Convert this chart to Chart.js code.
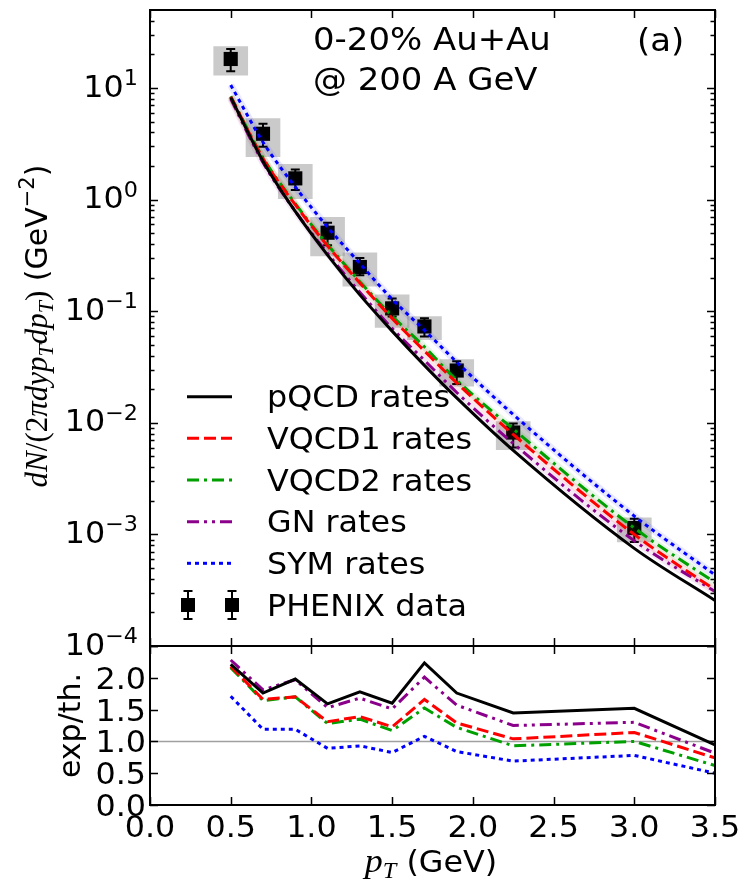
<!DOCTYPE html>
<html>
<head>
<meta charset="utf-8">
<script src="https://cdn.jsdelivr.net/npm/chart.js@4.4.0/dist/chart.umd.min.js"></script>
<style>
  html, body { margin: 0; padding: 0; background: #fff; }
  #wrap { position: relative; width: 747px; height: 882px; }
  canvas { position: absolute; left: 0; top: 0; }
</style>
</head>
<body>
<div id="wrap">
  <canvas id="spectrum" width="747" height="882"></canvas>
  <canvas id="ratio" width="747" height="882"></canvas>
</div>
<script>
// PHENIX points
const ptData = [0.5, 0.7, 0.9, 1.1, 1.3, 1.5, 1.7, 1.9, 2.25, 3.0];
const phenix = [18.2, 3.89, 1.55, 0.505, 0.249, 0.106, 0.073, 0.0294, 0.00818, 0.00114];
const statLow = [14.1, 2.98, 1.22, 0.389, 0.21, 0.0896, 0.0594, 0.0223, 0.0060, 0.000857];
const statHigh = [22.4, 4.78, 1.86, 0.62, 0.30, 0.130, 0.0865, 0.0356, 0.00984, 0.00138];
const sysLow = [13.0, 2.43, 1.02, 0.313, 0.168, 0.0714, 0.0555, 0.0213, 0.00574, 0.000855];
const sysHigh = [23.5, 5.33, 2.07, 0.695, 0.333, 0.140, 0.0895, 0.0368, 0.01026, 0.00141];

// theory rates
const ptTheory = [0.5, 0.7, 0.9, 1.1, 1.3, 1.5, 1.7, 1.9, 2.25, 3.0, 3.5];
const pqcdRate = [8.24, 2.21, 0.783, 0.318, 0.140, 0.0663, 0.0327, 0.0167, 0.00566, 0.00075, 0.000256];
const vqcd1Rate = [8.35, 2.34, 0.90, 0.385, 0.179, 0.0862, 0.044, 0.0228, 0.00787, 0.00100, 0.000318];
const vqcd2Rate = [8.43, 2.37, 0.92, 0.395, 0.184, 0.0906, 0.0479, 0.0241, 0.0088, 0.00114, 0.00037];
const gnRate = [7.98, 2.15, 0.787, 0.330, 0.148, 0.0702, 0.0363, 0.0187, 0.00654, 0.000877, 0.000308];
const symRate = [10.64, 3.27, 1.30, 0.567, 0.268, 0.128, 0.0676, 0.035, 0.01186, 0.00146, 0.000434];

// exp/th. ratios
const ratioPqcd = [2.21, 1.76, 1.98, 1.59, 1.78, 1.60, 2.235, 1.76, 1.446, 1.52, 0.946];
const ratioVqcd1 = [2.18, 1.66, 1.70, 1.31, 1.39, 1.23, 1.66, 1.29, 1.04, 1.14, 0.74];
const ratioVqcd2 = [2.16, 1.64, 1.70, 1.28, 1.35, 1.17, 1.525, 1.22, 0.93, 1.00, 0.62];
const ratioGn = [2.28, 1.81, 1.97, 1.53, 1.68, 1.51, 2.01, 1.57, 1.25, 1.30, 0.815];
const ratioSym = [1.71, 1.19, 1.19, 0.89, 0.93, 0.825, 1.08, 0.84, 0.69, 0.78, 0.50];

// ticks
const xTicks = [0, 0.5, 1.0, 1.5, 2.0, 2.5, 3.0, 3.5];
const xTickLabels = ['0.0', '0.5', '1.0', '1.5', '2.0', '2.5', '3.0', '3.5'];
const logTicks = [1e-4, 1e-3, 1e-2, 1e-1, 1, 10];
const logTickExp = ['\u22124', '\u22123', '\u22122', '\u22121', '0', '1'];
const ratioTicks = [0, 0.5, 1.0, 1.5, 2.0, 2.5];
const ratioTickLabels = ['0.0', '0.5', '1.0', '1.5', '2.0', ''];

const SANS = 'DejaVu Sans';
const MATH = 'Liberation Serif';
const SX = 1.06;

const styles = {
  pqcd: { label: 'pQCD rates', color: '#000000', dash: [] },
  vqcd1: { label: 'VQCD1 rates', color: '#ff0000', dash: [12, 5], halo: 'rgba(255,0,0,0.09)' },
  vqcd2: { label: 'VQCD2 rates', color: '#00a000', dash: [12, 5, 3, 5], halo: 'rgba(0,160,0,0.09)' },
  gn: { label: 'GN rates', color: '#8b008b', dash: [12, 5, 3, 5, 3, 5], halo: 'rgba(139,0,139,0.09)' },
  sym: { label: 'SYM rates', color: '#0000ff', dash: [4, 4], halo: 'rgba(0,0,255,0.09)' }
};

function pts(xs, ys) { return xs.map((x, i) => ({ x: x, y: ys[i] })); }

function lineSet(key, values, smooth) {
  const s = styles[key];
  return {
    type: 'line', label: s.label, data: pts(ptTheory, values),
    borderColor: s.color, borderWidth: 3, borderDash: s.dash,
    pointRadius: 0, fill: false, order: 0,
    cubicInterpolationMode: smooth ? 'monotone' : 'default', legendLine: true
  };
}

function haloSet(key, values) {
  const s = styles[key];
  return {
    type: 'line', label: s.label + ' band', data: pts(ptTheory, values),
    borderColor: s.halo, borderWidth: 7, pointRadius: 0, fill: false, order: 1,
    cubicInterpolationMode: 'monotone'
  };
}

function drawText(ctx, parts, x, y, align, rotated, sx) {
  ctx.save();
  ctx.translate(x, y);
  if (rotated) ctx.rotate(-Math.PI / 2);
  ctx.scale(sx || 1, 1);
  ctx.textAlign = 'left';
  ctx.textBaseline = 'alphabetic';
  ctx.fillStyle = '#000';
  let w = 0;
  parts.forEach(p => { ctx.font = p.f; w += ctx.measureText(p.t).width; });
  let cx = align === 'right' ? -w : (align === 'center' ? -w / 2 : 0);
  parts.forEach(p => {
    ctx.font = p.f;
    ctx.fillText(p.t, cx, p.dy || 0);
    cx += ctx.measureText(p.t).width;
  });
  ctx.restore();
}

function frameAndTicks(chart, yMajor, yMinor) {
  const ctx = chart.ctx;
  const a = chart.chartArea;
  const sx = chart.scales.x, sy = chart.scales.y;
  ctx.save();
  ctx.strokeStyle = '#000';
  ctx.lineWidth = 1.5;
  ctx.setLineDash([]);
  ctx.beginPath();
  xTicks.forEach(v => {
    const px = Math.round(sx.getPixelForValue(v)) + 0.5;
    ctx.moveTo(px, a.bottom); ctx.lineTo(px, a.bottom - 8);
    ctx.moveTo(px, a.top); ctx.lineTo(px, a.top + 8);
  });
  yMajor.forEach(v => {
    const py = Math.round(sy.getPixelForValue(v)) + 0.5;
    ctx.moveTo(a.left, py); ctx.lineTo(a.left + 8, py);
    ctx.moveTo(a.right, py); ctx.lineTo(a.right - 8, py);
  });
  yMinor.forEach(v => {
    const py = Math.round(sy.getPixelForValue(v)) + 0.5;
    ctx.moveTo(a.left, py); ctx.lineTo(a.left + 4.5, py);
    ctx.moveTo(a.right, py); ctx.lineTo(a.right - 4.5, py);
  });
  ctx.stroke();
  ctx.lineWidth = 2;
  ctx.strokeRect(a.left, a.top, a.right - a.left, a.bottom - a.top);
  ctx.restore();
}

// error bars of the PHENIX points, drawn just before the markers
const errorBars = {
  id: 'errorBars',
  beforeDatasetDraw(chart, args) {
    if (chart.data.datasets[args.index].label !== 'PHENIX data') return;
    const ctx = chart.ctx, a = chart.chartArea;
    const sx = chart.scales.x, sy = chart.scales.y;
    ctx.save();
    ctx.beginPath();
    ctx.rect(a.left, a.top, a.right - a.left, a.bottom - a.top);
    ctx.clip();
    ctx.strokeStyle = '#000';
    ctx.lineWidth = 2;
    ctx.beginPath();
    ptData.forEach((x, i) => {
      const px = sx.getPixelForValue(x);
      const lo = sy.getPixelForValue(statLow[i]);
      const hi = sy.getPixelForValue(statHigh[i]);
      ctx.moveTo(px, lo); ctx.lineTo(px, hi);
      ctx.moveTo(px - 4.5, lo); ctx.lineTo(px + 4.5, lo);
      ctx.moveTo(px - 4.5, hi); ctx.lineTo(px + 4.5, hi);
    });
    ctx.stroke();
    ctx.restore();
  }
};

const spectrumAxes = {
  id: 'spectrumAxes',
  afterDraw(chart) {
    const ctx = chart.ctx;
    const sy = chart.scales.y;
    const minor = [];
    for (let d = -4; d <= 1; d++) {
      for (let m = 2; m <= 9; m++) {
        const v = m * Math.pow(10, d);
        if (v < 50) minor.push(v);
      }
    }
    frameAndTicks(chart, logTicks, minor);

    // y tick labels 10^n
    logTicks.forEach((v, i) => {
      const py = sy.getPixelForValue(v);
      drawText(ctx, [
        { t: '10', f: '30px "' + SANS + '"', dy: 8.5 },
        { t: logTickExp[i], f: '21px "' + SANS + '"', dy: -3 }
      ], 138, py, 'right', false, SX);
    });

    // y title
    const mi = 'italic 31px "' + MATH + '"', mr = '31px "' + MATH + '"', ms = 'italic 22px "' + MATH + '"';
    drawText(ctx, [
      { t: 'dN', f: mi }, { t: '/(', f: mr }, { t: '2', f: mr }, { t: '\u03c0dyp', f: mi },
      { t: 'T', f: ms, dy: 6 }, { t: 'dp', f: mi }, { t: 'T', f: ms, dy: 6 }, { t: ')', f: mr },
      { t: ' (GeV', f: '30px "' + SANS + '"' }, { t: '\u22122', f: '21px "' + SANS + '"', dy: -13 },
      { t: ')', f: '30px "' + SANS + '"' }
    ], 47, 326, 'center', true, 1);

    // annotation
    const big = '32px "' + SANS + '"';
    drawText(ctx, [{ t: '0-20% Au+Au', f: big }], 313, 50, 'left', false, SX);
    drawText(ctx, [{ t: '@ 200 A GeV', f: big }], 313, 90, 'left', false, SX);
    drawText(ctx, [{ t: '(a)', f: big }], 637, 51, 'left', false, SX);

    // legend
    const rowY = [396.7, 438.3, 480, 521.7, 563.3, 605];
    const leg = chart.data.datasets.filter(d => d.legendLine);
    ctx.save();
    leg.forEach((d, i) => {
      ctx.strokeStyle = d.borderColor;
      ctx.lineWidth = 3;
      ctx.setLineDash(d.borderDash);
      ctx.beginPath();
      ctx.moveTo(187, rowY[i]); ctx.lineTo(232, rowY[i]);
      ctx.stroke();
      drawText(ctx, [{ t: d.label, f: '30px "' + SANS + '"' }], 267, rowY[i] + 10.5, 'left', false, SX);
    });
    ctx.setLineDash([]);
    const py = rowY[5];
    [188, 232].forEach(px => {
      ctx.strokeStyle = '#000';
      ctx.lineWidth = 2;
      ctx.beginPath();
      ctx.moveTo(px, py - 14); ctx.lineTo(px, py + 14);
      ctx.moveTo(px - 4.5, py - 14); ctx.lineTo(px + 4.5, py - 14);
      ctx.moveTo(px - 4.5, py + 14); ctx.lineTo(px + 4.5, py + 14);
      ctx.stroke();
      ctx.fillStyle = '#000';
      ctx.fillRect(px - 7, py - 7, 14, 14);
    });
    drawText(ctx, [{ t: 'PHENIX data', f: '30px "' + SANS + '"' }], 267, py + 10.5, 'left', false, SX);
    ctx.restore();
  }
};

const ratioAxes = {
  id: 'ratioAxes',
  afterDraw(chart) {
    const ctx = chart.ctx;
    const sx = chart.scales.x, sy = chart.scales.y;
    frameAndTicks(chart, ratioTicks, []);
    ratioTicks.forEach((v, i) => {
      if (!ratioTickLabels[i]) return;
      drawText(ctx, [{ t: ratioTickLabels[i], f: '30px "' + SANS + '"' }], 146, sy.getPixelForValue(v) + 11, 'right', false, SX);
    });
    xTicks.forEach((v, i) => {
      drawText(ctx, [{ t: xTickLabels[i], f: '30px "' + SANS + '"' }], sx.getPixelForValue(v), 837, 'center', false, SX);
    });
    drawText(ctx, [
      { t: 'p', f: 'italic 34px "' + MATH + '"' }, { t: 'T', f: 'italic 23px "' + MATH + '"', dy: 6 },
      { t: ' (GeV)', f: '30px "' + SANS + '"' }
    ], 431, 872, 'center', false, SX);
    drawText(ctx, [{ t: 'exp/th.', f: '30px "' + SANS + '"' }], 80, 725.5, 'center', true, 1);
  }
};

const common = {
  responsive: false,
  animation: false,
  devicePixelRatio: 1,
  events: [],
  plugins: { legend: { display: false }, tooltip: { enabled: false } }
};

new Chart(document.getElementById('spectrum'), {
  type: 'line',
  data: {
    datasets: [
      lineSet('pqcd', pqcdRate, true),
      lineSet('vqcd1', vqcd1Rate, true),
      lineSet('vqcd2', vqcd2Rate, true),
      lineSet('gn', gnRate, true),
      lineSet('sym', symRate, true),
      haloSet('vqcd1', vqcd1Rate),
      haloSet('vqcd2', vqcd2Rate),
      haloSet('gn', gnRate),
      haloSet('sym', symRate),
      {
        type: 'line', label: 'PHENIX data', data: pts(ptData, phenix), showLine: false,
        pointStyle: 'rect', pointRadius: 10, backgroundColor: '#000', borderColor: '#000',
        borderWidth: 0, order: 2
      },
      {
        type: 'bar', label: 'PHENIX sys', data: ptData.map((x, i) => ({ x: x, y: [sysLow[i], sysHigh[i]] })),
        backgroundColor: 'rgba(150,150,150,0.5)', borderWidth: 0, barThickness: 34, order: 3
      }
    ]
  },
  options: Object.assign({}, common, {
    layout: { padding: { left: 150, right: 32, top: 6, bottom: 236 } },
    scales: {
      x: { type: 'linear', min: 0, max: 3.5, display: false, offset: false },
      y: { type: 'logarithmic', min: 1e-4, max: 50, display: false }
    }
  }),
  plugins: [errorBars, spectrumAxes]
});

new Chart(document.getElementById('ratio'), {
  type: 'line',
  data: {
    datasets: [
      lineSet('pqcd', ratioPqcd, false),
      lineSet('vqcd1', ratioVqcd1, false),
      lineSet('vqcd2', ratioVqcd2, false),
      lineSet('gn', ratioGn, false),
      lineSet('sym', ratioSym, false),
      {
        type: 'line', label: 'unity', data: [{ x: 0, y: 1 }, { x: 3.5, y: 1 }],
        borderColor: '#a0a0a0', borderWidth: 1.5, pointRadius: 0, order: 5
      }
    ]
  },
  options: Object.assign({}, common, {
    layout: { padding: { left: 150, right: 32, top: 646, bottom: 77 } },
    scales: {
      x: { type: 'linear', min: 0, max: 3.5, display: false, offset: false },
      y: { type: 'linear', min: 0, max: 2.5, display: false }
    }
  }),
  plugins: [ratioAxes]
});
</script>
</body>
</html>
